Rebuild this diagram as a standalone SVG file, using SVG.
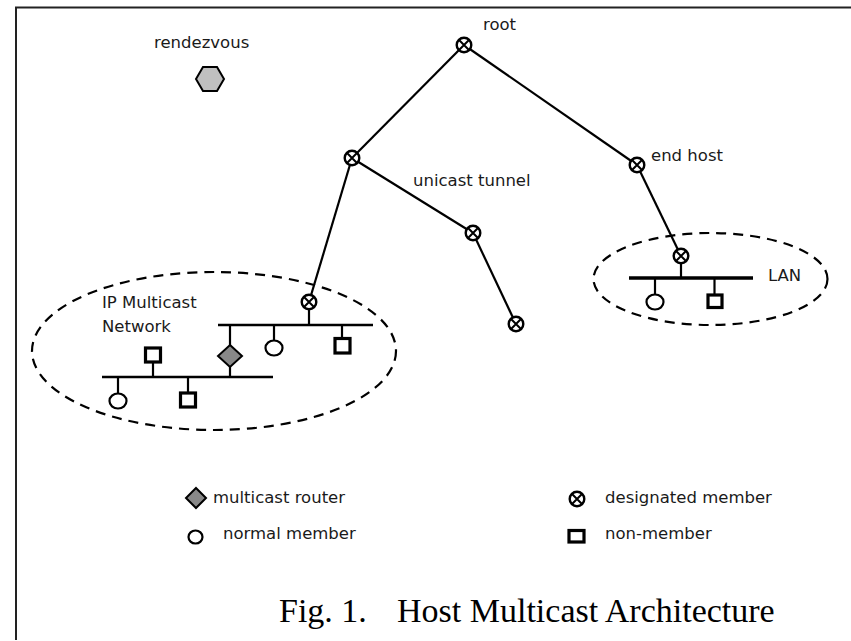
<svg xmlns="http://www.w3.org/2000/svg" width="851" height="641" viewBox="0 0 851 641">
<defs>
<style>
.lbl{font-family:"DejaVu Sans","Verdana",sans-serif;font-size:16.5px;fill:#1a1a1a}
.leg{font-family:"DejaVu Sans","Verdana",sans-serif;font-size:16.5px;fill:#1a1a1a}
.cap{font-family:"Liberation Serif","Times New Roman",serif;font-size:34px;fill:#000}
.edge{stroke:#000;stroke-width:2.2;fill:none}
.bus{stroke:#000;stroke-width:2.5;fill:none}
.stem{stroke:#000;stroke-width:2.2;fill:none}
.zone{stroke:#000;stroke-width:2.2;fill:none;stroke-dasharray:10 7}
.mem{fill:#fff;stroke:#000;stroke-width:2.2}
.non{fill:#fff;stroke:#000;stroke-width:3.2}
.rtr{fill:#888;stroke:#000;stroke-width:2}
</style>
<g id="dm">
<circle r="7.3" fill="#fff" stroke="#000" stroke-width="2.4"/>
<path d="M-5.2,-5.2 L5.2,5.2 M5.2,-5.2 L-5.2,5.2" stroke="#000" stroke-width="2"/>
</g>
</defs>
<rect width="851" height="641" fill="#fff"/>
<path d="M16,640 L16,7.5 L851,7.5" stroke="#222" stroke-width="2" fill="none"/>

<g id="connectors">
<line class="edge" x1="464" y1="45" x2="352" y2="158"/>
<line class="edge" x1="464" y1="45" x2="637" y2="165"/>
<line class="edge" x1="352" y1="158" x2="473" y2="233"/>
<line class="edge" x1="473" y1="233" x2="516" y2="324"/>
<line class="edge" x1="352" y1="158" x2="309" y2="302"/>
<line class="edge" x1="637" y1="165" x2="681" y2="256"/>
</g>

<g id="rendezvous">
<text class="lbl" x="154" y="48">rendezvous</text>
<polygon points="196,79 203,67 217,67 224,79 217,91 203,91" fill="#c0c0c0" stroke="#000" stroke-width="2"/>
</g>

<g id="root">
<use href="#dm" x="464" y="45"/>
<text class="lbl" x="483" y="30">root</text>
</g>
<g id="node-left"><use href="#dm" x="352" y="158"/></g>
<g id="node-end-host">
<use href="#dm" x="637" y="165"/>
<text class="lbl" x="651" y="161">end host</text>
</g>
<g id="node-mid">
<use href="#dm" x="473" y="233"/>
<text class="lbl" x="413" y="186">unicast tunnel</text>
</g>
<g id="node-bottom"><use href="#dm" x="516" y="324"/></g>

<g id="ip-multicast-network">
<ellipse class="zone" cx="214" cy="351" rx="182" ry="79"/>
<text class="lbl" x="102" y="308">IP Multicast</text>
<text class="lbl" x="102" y="332">Network</text>
<line class="bus" x1="218" y1="325" x2="373" y2="325"/>
<line class="bus" x1="102" y1="377" x2="273" y2="377"/>
<line class="stem" x1="309" y1="302" x2="309" y2="325"/>
<line class="stem" x1="230" y1="325" x2="230" y2="377"/>
<line class="stem" x1="274" y1="325" x2="274" y2="341"/>
<line class="stem" x1="342" y1="325" x2="342" y2="338"/>
<line class="stem" x1="153" y1="362" x2="153" y2="377"/>
<line class="stem" x1="118" y1="377" x2="118" y2="394"/>
<line class="stem" x1="188" y1="377" x2="188" y2="393"/>
<use href="#dm" x="309" y="302"/>
<polygon class="rtr" points="230,345 242,356 230,367 218,356"/>
<ellipse class="mem" cx="274" cy="348" rx="8.5" ry="7.5"/>
<rect class="non" x="335" y="338.5" width="15" height="14.5"/>
<rect class="non" x="145.5" y="348" width="15" height="14"/>
<ellipse class="mem" cx="118" cy="401" rx="8.5" ry="7.5"/>
<rect class="non" x="180.5" y="393" width="15" height="14"/>
</g>

<g id="lan">
<ellipse class="zone" cx="710.5" cy="279" rx="117" ry="46"/>
<line stroke="#000" stroke-width="3.5" x1="629" y1="278" x2="753" y2="278"/>
<line class="stem" x1="681" y1="256" x2="681" y2="278"/>
<line class="stem" x1="655" y1="278" x2="655" y2="295"/>
<line class="stem" x1="714.5" y1="278" x2="714.5" y2="295"/>
<use href="#dm" x="681" y="256"/>
<ellipse class="mem" cx="655" cy="302" rx="8.5" ry="7.5"/>
<rect class="non" x="708" y="295" width="14" height="12.5"/>
<text class="lbl" x="768" y="281">LAN</text>
</g>

<g id="legend">
<polygon class="rtr" points="196,488 206,498 196,508 186,498"/>
<text class="leg" x="213" y="503">multicast router</text>
<use href="#dm" x="577" y="499"/>
<text class="leg" x="605" y="503">designated member</text>
<ellipse class="mem" cx="195.5" cy="537" rx="7" ry="6.5" stroke-width="2.6"/>
<text class="leg" x="223" y="539">normal member</text>
<rect class="non" x="569" y="530.5" width="15" height="11.5" stroke-width="3.6"/>
<text class="leg" x="605" y="539">non-member</text>
</g>

<g id="caption">
<text class="cap" y="622"><tspan x="279">Fig. 1.</tspan><tspan x="397">Host Multicast Architecture</tspan></text>
</g>
</svg>
